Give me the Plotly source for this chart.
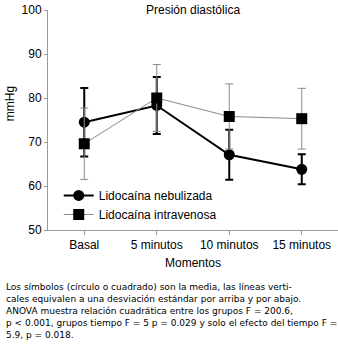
import plotly.graph_objects as go

categories = ["Basal", "5 minutos", "10 minutos", "15 minutos"]
neb_mean = [74.5, 78.3, 67.1, 63.8]
neb_sd = [7.8, 6.5, 5.7, 3.4]
iv_mean = [69.6, 80.0, 75.8, 75.3]
iv_sd = [8.1, 7.6, 7.4, 6.9]
yticks = [50, 60, 70, 80, 90, 100]

caption_lines = [
    "Los símbolos (círculo o cuadrado) son la media, las líneas verti-",
    "cales equivalen a una desviación estándar por arriba y por abajo.",
    "ANOVA muestra relación cuadrática entre los grupos F = 200.6,",
    "p &lt; 0.001, grupos tiempo F = 5 p = 0.029 y solo el efecto del tiempo F =",
    "5.9, p = 0.018.",
]

FONT = "Liberation Sans, Arial, sans-serif"
xs = list(range(len(categories)))

fig = go.Figure()
fig.add_trace(go.Scatter(
    x=xs, y=neb_mean, name="Lidocaína nebulizada", mode="lines+markers",
    line=dict(color="black", width=2),
    marker=dict(symbol="circle", size=11, color="black"),
    error_y=dict(type="data", array=neb_sd, visible=True, color="black", thickness=2, width=4),
))
fig.add_trace(go.Scatter(
    x=xs, y=iv_mean, name="Lidocaína intravenosa", mode="lines+markers",
    line=dict(color="#8a8a8a", width=1),
    marker=dict(symbol="square", size=11, color="black"),
    error_y=dict(type="data", array=iv_sd, visible=True, color="#8a8a8a", thickness=1, width=4),
))

fig.update_layout(
    width=338, height=346,
    margin=dict(l=48, r=0, t=10, b=116),
    paper_bgcolor="white", plot_bgcolor="white",
    font=dict(family=FONT, size=12, color="black"),
    showlegend=True,
    legend=dict(x=0.037, y=0.223, xanchor="left", yanchor="top", bgcolor="rgba(0,0,0,0)",
                font=dict(size=12), itemwidth=30, tracegroupgap=0),
    xaxis=dict(range=[-0.5, 3.5], tickvals=xs, ticktext=categories, showgrid=False,
               zeroline=False, showline=True, linecolor="#999999", linewidth=1,
               ticks="outside", ticklen=4, tickcolor="#999999", tickfont=dict(size=12)),
    yaxis=dict(range=[50, 100], tickvals=yticks, showgrid=False, zeroline=False,
               showline=True, linecolor="#999999", linewidth=1,
               ticks="outside", ticklen=3, tickcolor="#999999", tickfont=dict(size=12)),
)

fig.add_annotation(text="Presión diastólica", xref="paper", yref="paper", x=0.5, y=1.0,
                   yanchor="middle", showarrow=False, font=dict(size=12))
fig.add_annotation(text="Momentos", xref="paper", yref="paper", x=0.5, y=-0.15,
                   yanchor="middle", showarrow=False, font=dict(size=12))
fig.add_annotation(text="mmHg", xref="paper", yref="y", x=-0.131, y=78.6, textangle=-90,
                   xanchor="center", yanchor="middle", showarrow=False, font=dict(size=12))

for i, line in enumerate(caption_lines):
    fig.add_annotation(text=line, xref="paper", yref="paper",
                       x=-44/290, y=(230 - (287 + i * 12)) / 220,
                       xanchor="left", yanchor="middle", showarrow=False, align="left",
                       font=dict(size=9, family="DejaVu Sans"))

fig.write_html("out.html", config={"displayModeBar": False},
               post_script="document.body.style.margin='0px';")
